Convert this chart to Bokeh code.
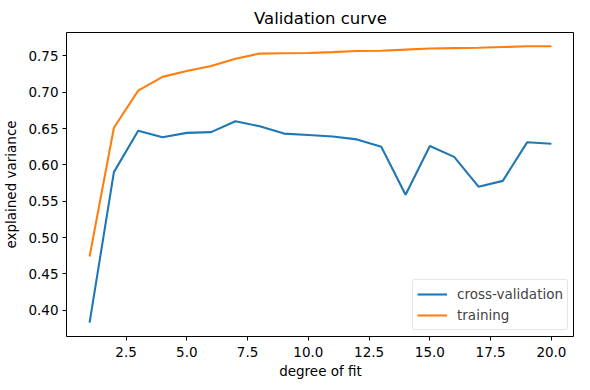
from bokeh.plotting import figure
from bokeh.models import FixedTicker, Range1d, Legend, LegendItem, CustomJSTickFormatter
from bokeh.embed import file_html
from bokeh.resources import INLINE

degree = list(range(1, 21))
cross_validation = [0.383, 0.590, 0.647, 0.638, 0.644, 0.645, 0.660, 0.653, 0.643, 0.641,
                    0.639, 0.635, 0.625, 0.559, 0.626, 0.611, 0.570, 0.578, 0.631, 0.629]
training = [0.474, 0.651, 0.702, 0.721, 0.729, 0.736, 0.746, 0.753, 0.7535, 0.7538,
            0.755, 0.7565, 0.757, 0.7585, 0.760, 0.7605, 0.761, 0.762, 0.763, 0.763]
x_ticks = [2.5, 5.0, 7.5, 10.0, 12.5, 15.0, 17.5, 20.0]
y_ticks = [0.40, 0.45, 0.50, 0.55, 0.60, 0.65, 0.70, 0.75]

FONT = "DejaVu Sans"

ymin = min(cross_validation + training)
ymax = max(cross_validation + training)
ypad = (ymax - ymin) * 0.05
xpad = (max(degree) - min(degree)) * 0.05

p = figure(width=574, height=381, output_backend="svg", toolbar_location=None,
           x_range=Range1d(min(degree) - xpad, max(degree) + xpad),
           y_range=Range1d(ymin - ypad, ymax + ypad),
           title="Validation curve",
           min_border_left=63, min_border_right=0, min_border_top=32, min_border_bottom=0)

p.title.align = "center"
p.title.text_font = FONT
p.title.text_font_size = "16.5px"
p.title.text_font_style = "normal"
p.title.text_color = "black"
p.title.offset = 0
p.title.standoff = 9

l1 = p.line(degree, cross_validation, line_color="#1f77b4", line_width=2.1)
l2 = p.line(degree, training, line_color="#ff7f0e", line_width=2.1)

p.xgrid.visible = False
p.ygrid.visible = False
p.outline_line_color = "black"
p.outline_line_width = 1
p.outline_line_alpha = 1

p.xaxis.ticker = FixedTicker(ticks=x_ticks)
p.yaxis.ticker = FixedTicker(ticks=y_ticks)
p.xaxis.formatter = CustomJSTickFormatter(code="return tick.toFixed(1);")
p.yaxis.formatter = CustomJSTickFormatter(code="return tick.toFixed(2);")

for ax in (p.xaxis, p.yaxis):
    ax.axis_line_color = None
    ax.minor_tick_line_color = None
    ax.major_tick_in = 0
    ax.major_tick_out = 4
    ax.major_tick_line_color = "black"
    ax.major_label_text_font = FONT
    ax.major_label_text_font_size = "13.5px"
    ax.major_label_text_color = "black"
    ax.major_label_text_line_height = 1.0
    ax.axis_label_text_font = FONT
    ax.axis_label_text_font_size = "13.5px"
    ax.axis_label_text_font_style = "normal"
    ax.axis_label_text_color = "black"
    ax.axis_label_text_line_height = 1.0

p.xaxis.axis_label = "degree of fit"
p.yaxis.axis_label = "explained variance"
p.xaxis.major_label_standoff = 6
p.yaxis.major_label_standoff = 4
p.xaxis.axis_label_standoff = 3
p.yaxis.axis_label_standoff = 6

legend = Legend(items=[LegendItem(label="cross-validation", renderers=[l1]),
                       LegendItem(label="training", renderers=[l2])],
                location="bottom_right")
legend.label_text_font = FONT
legend.label_text_font_size = "13.5px"
legend.border_line_color = "#cccccc"
legend.border_line_width = 1
legend.border_radius = 3
legend.background_fill_alpha = 0.8
legend.glyph_width = 30
legend.glyph_height = 20
legend.label_height = 20
legend.label_standoff = 10
legend.spacing = 1
legend.padding = 4
legend.margin = 6
p.add_layout(legend)

open("out.html", "w").write(file_html(p, INLINE))
